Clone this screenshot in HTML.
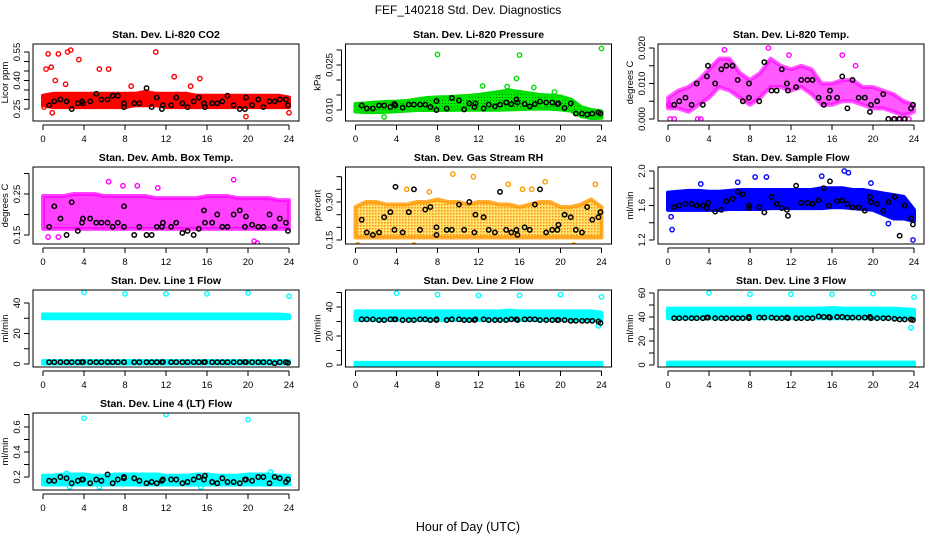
<!DOCTYPE html>
<html><head><meta charset="utf-8"><style>
body{margin:0;background:#fff}
svg{display:block;font-family:"Liberation Sans",Arial,sans-serif}
</style></head><body>
<svg id="chart" width="936" height="540" viewBox="0 0 936 540" xmlns="http://www.w3.org/2000/svg">
<defs>
<pattern id="rhpat" width="3" height="3" patternUnits="userSpaceOnUse"><rect width="3" height="3" fill="#ffe040"/><rect x="0" y="0" width="1.5" height="1.5" fill="#ff6a00"/></pattern>
<pattern id="prpat" width="3" height="3" patternUnits="userSpaceOnUse"><rect width="3" height="3" fill="#00ee00"/><rect x="1" y="1" width="1" height="1" fill="#006600"/></pattern>
</defs>
<text x="468" y="14" font-size="12" text-anchor="middle">FEF_140218  Std. Dev. Diagnostics</text>
<text x="468" y="531" font-size="12.5" text-anchor="middle">Hour of Day (UTC)</text>
</svg>
<script>
// shared sample hours for the black (hourly mean) points
const blackHours=[0.6,1.1,1.7,2.3,2.8,3.4,3.8,3.9,4.6,5.2,5.7,6.3,6.8,7.3,7.9,7.9,8.9,9.4,10.1,10.6,11.1,11.6,11.7,12.5,13,13.6,14.1,14.7,15.2,15.7,15.8,16.5,17,17.5,18,18.6,19.2,19.7,19.8,20.4,21,21.5,22.1,22.6,23.1,23.7,23.9];
const bandHours=[0,1,2,3,4,5,6,7,8,9,10,11,12,13,14,15,16,17,18,19,20,21,22,23,24];
const xTicks=[0,4,8,12,16,20,24];

const co2Lo=[.27,.26,.26,.26,.26,.26,.26,.26,.26,.27,.27,.27,.26,.26,.26,.26,.26,.26,.26,.26,.26,.26,.26,.26,.26];
const co2Hi=[.32,.33,.33,.33,.33,.33,.33,.33,.33,.33,.34,.33,.33,.33,.33,.32,.32,.32,.32,.32,.32,.32,.32,.32,.31];
const co2OutH=[0.3,0.5,0.8,1.5,2.4,2.7,3.5,5.5,6.4,11,12.8,15.3,0.1,0.9,19.8,24,8.6,14.4,1.2,2.2];
const co2OutV=[.46,.54,.47,.54,.55,.56,.51,.46,.46,.55,.42,.41,.26,.23,.21,.23,.37,.37,.40,.38];
const co2Black=[.27,.29,.30,.29,.25,.28,.29,.28,.29,.33,.30,.30,.32,.32,.26,.28,.28,.28,.36,.26,.31,.25,.27,.27,.31,.28,.26,.29,.31,.28,.26,.28,.28,.29,.32,.27,.25,.25,.31,.27,.30,.26,.29,.29,.30,.30,.27];

const prLo=[.0095,.0093,.0093,.0094,.0096,.0098,.0100,.0100,.0100,.0100,.0101,.0101,.0101,.0101,.0101,.0102,.0103,.0104,.0105,.0104,.0102,.0098,.0080,.0073,.0074];
const prHi=[.0120,.0122,.0125,.0127,.0128,.0130,.0135,.0140,.0142,.0143,.0145,.0147,.0150,.0155,.0160,.0165,.0160,.0155,.0150,.0148,.0145,.0135,.0110,.0100,.0095];
const prOutH=[8,16,24,15.7,12.4,17.4,2.8,14.8,19.4];
const prOutV=[.0285,.0283,.0305,.0205,.0180,.0175,.0077,.0178,.0160];
const prBlack=[.0115,.0105,.0105,.0115,.0115,.011,.012,.0115,.0108,.0118,.0118,.0118,.0118,.011,.010,.013,.0105,.0140,.0132,.0102,.0122,.0110,.0122,.0105,.0118,.0112,.0118,.0125,.0120,.0135,.0125,.0120,.0112,.0120,.0128,.0125,.0125,.0120,.0122,.0107,.0122,.0088,.0088,.0085,.0088,.0092,.0088];

const tLo=[.003,.003,.002,.004,.006,.009,.008,.006,.004,.006,.009,.009,.008,.009,.007,.004,.004,.005,.005,.004,.003,.003,.002,.001,.002];
const tHi=[.006,.008,.009,.011,.014,.017,.017,.013,.011,.013,.017,.015,.014,.015,.014,.010,.010,.011,.011,.009,.009,.008,.007,.005,.004];
const tOutH=[0.2,0.6,2.9,3.2,21.5,22,22.5,23,23.5,5.5,9.8,11.8,17,0.1,18.3];
const tOutV=[0,0,0,0,0,0,0,0,0,.0195,.020,.018,.018,.004,.015];
const tBlack=[.004,.005,.006,.004,.010,.004,.012,.015,.010,.014,.015,.015,.011,.005,.006,.010,.005,.016,.008,.008,.014,.010,.008,.009,.011,.011,.011,.006,.004,.006,.008,.006,.012,.003,.011,.006,.006,.002,.004,.005,.007,0,0,0,0,.003,.004];

const aLo=[.165,.165,.165,.165,.165,.165,.165,.165,.165,.165,.165,.165,.165,.165,.165,.165,.165,.165,.165,.165,.165,.165,.165,.165,.165];
const aHi=[.245,.245,.245,.25,.25,.25,.245,.245,.245,.245,.245,.24,.24,.24,.24,.24,.245,.245,.245,.24,.24,.24,.24,.235,.235];
const aOutH=[3.7,6.4,18.6,0.5,1.5,20.6,20.9,11.2,7.8,9.2];
const aOutV=[.33,.28,.285,.145,.145,.135,.13,.265,.27,.27];
const aBlack=[.17,.22,.19,.15,.23,.16,.18,.19,.19,.18,.18,.18,.17,.18,.22,.17,.15,.17,.15,.15,.17,.17,.18,.17,.18,.155,.16,.15,.165,.21,.18,.18,.20,.17,.17,.20,.21,.17,.195,.175,.17,.17,.20,.17,.19,.18,.16];

const rLo=[.16,.16,.16,.16,.16,.16,.16,.16,.16,.16,.16,.16,.16,.16,.16,.16,.16,.16,.16,.16,.16,.16,.16,.16,.16];
const rHi=[.28,.30,.30,.29,.29,.29,.30,.30,.31,.30,.30,.29,.30,.30,.29,.29,.28,.29,.30,.30,.28,.28,.29,.31,.28];
const rOutH=[9.5,11.5,18.5,23.4,14.9,5,7.2,0.2,5.7,21.3,16.3,17.2];
const rOutV=[.41,.40,.38,.37,.37,.35,.34,.13,.13,.13,.35,.35];
const rBlack=[.23,.18,.17,.18,.24,.26,.19,.36,.18,.26,.35,.19,.27,.28,.20,.17,.19,.19,.29,.19,.30,.18,.25,.24,.19,.18,.34,.19,.18,.19,.17,.20,.19,.29,.35,.18,.19,.19,.21,.25,.24,.19,.18,.28,.23,.24,.26];

const sLo=[1.55,1.55,1.55,1.55,1.55,1.55,1.56,1.56,1.56,1.56,1.57,1.57,1.57,1.57,1.57,1.57,1.58,1.58,1.57,1.56,1.55,1.50,1.45,1.45,1.42];
const sHi=[1.75,1.76,1.77,1.77,1.76,1.76,1.77,1.78,1.78,1.78,1.78,1.78,1.78,1.78,1.78,1.80,1.80,1.80,1.78,1.78,1.76,1.74,1.72,1.70,1.55];
const sOutH=[0.3,0.4,17.2,17.6,8.5,9.6,15,19.8,21.5,3.2,6.8,23.9];
const sOutV=[1.47,1.32,2.0,1.98,1.93,1.93,1.94,1.86,1.39,1.85,1.87,1.2];
const sBlack=[1.58,1.60,1.62,1.62,1.60,1.60,1.57,1.63,1.53,1.55,1.65,1.68,1.76,1.73,1.57,1.60,1.58,1.52,1.70,1.62,1.57,1.55,1.48,1.83,1.63,1.63,1.62,1.66,1.80,1.60,1.88,1.65,1.66,1.62,1.58,1.58,1.54,1.70,1.64,1.62,1.54,1.64,1.70,1.25,1.60,1.45,1.38];

const l1Lo=[30,30,30,30,30,30,30,30,30,30,30,30,30,30,30,30,30,30,30,30,30,30,30,30,30];
const l1Hi=[32.5,32.5,32.5,32.5,32.5,32.5,32.5,32.5,32.5,32.5,32.5,32.5,32.5,32.5,32.5,32.5,32.5,32.5,32.5,32.5,32.5,32.5,32.5,32.5,32];
const l1BaseLo=[0.3,0.3,0.3,0.3,0.3,0.3,0.3,0.3,0.3,0.3,0.3,0.3,0.3,0.3,0.3,0.3,0.3,0.3,0.3,0.3,0.3,0.3,0.3,0.3,0.3];
const l1BaseHi=[2,2,2,2,2,2,2,2,2,2,2,2,2,2,2,2,2,2,2,2,2,2,2,2,2];
const l1OutH=[4,8,12,16,20,24];
const l1OutV=[47,46,46,46,46.5,44.5];
const l1Black=[1.2,1.2,1.2,1.2,1.2,1.2,1.2,1.3,1.2,1.2,1.2,1.2,1.2,1.2,1.2,1.2,1.2,1.2,1.2,1.2,1.2,1.2,1.3,1.2,1.2,1.2,1.2,1.2,1.2,1.2,1.3,1.2,1.2,1.2,1.2,1.2,1.2,1.3,1.2,1.2,1.2,1.2,1.2,0.5,1.2,1.2,0.8];

const l2Lo=[31,31,31,31,31,31,31,31,31,31,31,31,31,31,31,31,31,31,31,31,31,31,31,31,31];
const l2Hi=[37,37,37,37,37,37,37,37,37,37,37,37,37,37,37,37.5,37,37,37,37,37,37,37,37,36];
const l2BaseLo=[0,0,0,0,0,0,0,0,0,0,0,0,0,0,0,0,0,0,0,0,0,0,0,0,0];
const l2BaseHi=[1.5,1.5,1.5,1.5,1.5,1.5,1.5,1.5,1.5,1.5,1.5,1.5,1.5,1.5,1.5,1.5,1.5,1.5,1.5,1.5,1.5,1.5,1.5,1.5,1.5];
const l2OutH=[4,8,12,16,20,24,23.7];
const l2OutV=[49.5,48.5,48,48,48.5,47,27];
const l2Black=[31.5,31.5,31.5,31,31,31.5,31.5,31.5,31,31,31,31.5,31.5,31,31,31.5,31,31.5,31.5,31,31,31,31.5,31.5,31,31,31,31,31.5,31.5,31,31.5,31.5,31.5,31,31,31,31,31,31,30.5,30.5,30.5,30.5,30.5,30,29];

const l3Lo=[39,39,39,39,39,39,39,39,39,39,39,39,39,39,39,39,39,39,39,39,39,39,39,39,39];
const l3Hi=[47,47,47,47,47,47,47,47,47,47,47,47,47,47,47,47,47.5,47,47,47,47,47,47,46.5,46];
const l3BaseLo=[0,0,0,0,0,0,0,0,0,0,0,0,0,0,0,0,0,0,0,0,0,0,0,0,0];
const l3BaseHi=[2,2,2,2,2,2,2,2,2,2,2,2,2,2,2,2,2,2,2,2,2,2,2,2,2];
const l3OutH=[4,8,12,16,20,24,23.7];
const l3OutV=[60,59,59,59,59.5,56.5,31];
const l3Black=[39,39,39,39,39,39,39.5,39.5,39,39,39,39,39,39,40,39,39.5,39.5,39.5,39,39,39.5,39,39,39,39,39,40.5,40,40,39.5,40,40,39.5,39.5,39.5,39.5,40,39,39,39,39,38.5,38,38,38,37.5];

const l4Lo=[.14,.14,.14,.14,.14,.14,.14,.14,.14,.14,.14,.14,.14,.14,.14,.14,.14,.14,.14,.14,.14,.14,.14,.14,.14];
const l4Hi=[.21,.21,.22,.22,.22,.21,.21,.22,.22,.22,.22,.22,.21,.21,.21,.22,.22,.21,.21,.21,.22,.22,.22,.21,.21];
const l4OutH=[4,12,20,2.3,22.2,2.6,15.4,5.5];
const l4OutV=[.67,.70,.66,.23,.24,.12,.12,.12];
const l4Black=[.17,.17,.20,.19,.15,.17,.18,.18,.15,.18,.17,.22,.15,.18,.19,.20,.19,.17,.15,.16,.15,.17,.18,.18,.18,.15,.16,.18,.20,.18,.21,.16,.15,.19,.16,.16,.15,.18,.18,.17,.20,.20,.15,.20,.19,.16,.18];

const NS='http://www.w3.org/2000/svg';
const svg=document.getElementById('chart');
function mk(tag,attrs,parent){const e=document.createElementNS(NS,tag);for(const k in attrs)e.setAttribute(k,attrs[k]);(parent||svg).appendChild(e);return e;}

const rowsTop=[44,167,290,413], rowsBot=[121,244,367,490];
const panels=[
 {key:'co2',title:'Stan. Dev. Li-820 CO2',yl:'Licor ppm',c:0,r:0,cal:[.25,109,.55,52],ticks:[.25,.30,.35,.40,.45,.50,.55],labs:[.25,.40,.55],fmt:2,col:'#ff0000',fill:'#ff0000',bands:[[co2Lo,co2Hi]],oh:co2OutH,ov:co2OutV,bv:co2Black},
 {key:'pressure',title:'Stan. Dev. Li-820 Pressure',yl:'kPa',c:1,r:0,cal:[.010,110,.025,65],ticks:[.010,.015,.020,.025,.030],labs:[.010,.025],fmt:3,col:'#00dd00',fill:'url(#prpat)',bands:[[prLo,prHi]],oh:prOutH,ov:prOutV,bv:prBlack},
 {key:'temp',title:'Stan. Dev. Li-820 Temp.',yl:'degrees C',c:2,r:0,cal:[0,119,.020,48],ticks:[0,.005,.010,.015,.020],labs:[0,.010,.020],fmt:3,col:'#ff00ff',fill:'#ff00ff',op:0.65,bands:[[tLo,tHi]],oh:tOutH,ov:tOutV,bv:tBlack},
 {key:'ambbox',title:'Stan. Dev. Amb. Box Temp.',yl:'degrees C',c:0,r:1,cal:[.15,235,.25,194],ticks:[.15,.20,.25,.30],labs:[.15,.25],fmt:2,col:'#ff00ff',fill:'#ff00ff',op:0.75,bands:[[aLo,aHi]],oh:aOutH,ov:aOutV,bv:aBlack},
 {key:'rh',title:'Stan. Dev. Gas Stream RH',yl:'percent',c:1,r:1,cal:[.15,240,.30,202],ticks:[.15,.20,.25,.30,.35,.40],labs:[.15,.30],fmt:2,col:'#ff9900',fill:'url(#rhpat)',op:0.8,bands:[[rLo,rHi]],oh:rOutH,ov:rOutV,bv:rBlack},
 {key:'sampleflow',title:'Stan. Dev. Sample Flow',yl:'ml/min',c:2,r:1,cal:[1.2,240,2.0,171],ticks:[1.2,1.4,1.6,1.8,2.0],labs:[1.2,1.6,2.0],fmt:1,col:'#0000ff',fill:'#0000ff',bands:[[sLo,sHi]],oh:sOutH,ov:sOutV,bv:sBlack},
 {key:'line1',title:'Stan. Dev. Line 1 Flow',yl:'ml/min',c:0,r:2,cal:[0,364,40,303],ticks:[0,10,20,30,40],labs:[0,20,40],fmt:0,col:'#00ffff',fill:'#00ffff',bands:[[l1Lo,l1Hi],[l1BaseLo,l1BaseHi]],oh:l1OutH,ov:l1OutV,bv:l1Black},
 {key:'line2',title:'Stan. Dev. Line 2 Flow',yl:'ml/min',c:1,r:2,cal:[0,365,40,307],ticks:[0,10,20,30,40,50],labs:[0,20,40],fmt:0,col:'#00ffff',fill:'#00ffff',bands:[[l2Lo,l2Hi],[l2BaseLo,l2BaseHi]],oh:l2OutH,ov:l2OutV,bv:l2Black},
 {key:'line3',title:'Stan. Dev. Line 3 Flow',yl:'ml/min',c:2,r:2,cal:[0,365,60,293],ticks:[0,10,20,30,40,50,60],labs:[0,20,40,60],fmt:0,col:'#00ffff',fill:'#00ffff',bands:[[l3Lo,l3Hi],[l3BaseLo,l3BaseHi]],oh:l3OutH,ov:l3OutV,bv:l3Black},
 {key:'line4',title:'Stan. Dev. Line 4 (LT) Flow',yl:'ml/min',c:0,r:3,cal:[.2,477,.6,427],ticks:[.2,.3,.4,.5,.6,.7],labs:[.2,.4,.6],fmt:1,col:'#00ffff',fill:'#00ffff',bands:[[l4Lo,l4Hi]],oh:l4OutH,ov:l4OutV,bv:l4Black}
];

panels.forEach(p=>{
  const x0=43+312.5*p.c, x24=x0+246;
  const xs=h=>x0+(x24-x0)*h/24;
  const [v1,p1,v2,p2]=p.cal;
  const ys=v=>p1+(v-v1)*(p2-p1)/(v2-v1);
  const top=rowsTop[p.r], bot=rowsBot[p.r], left=x0-10, right=x24+10;
  const g=mk('g',{});
  
  
  const t=mk('text',{x:(left+right)/2,y:top-6,'font-size':10.5,'font-weight':'bold','text-anchor':'middle'},g);
  t.textContent=p.title;
  
  
  const cp=mk('clipPath',{id:'cp-'+p.key},g);
  mk('rect',{x:left,y:top,width:right-left,height:bot-top},cp);
  const plot=mk('g',{'clip-path':'url(#cp-'+p.key+')'},g);
  p.bands.forEach((b,bi)=>{
    const [lo,hi]=b;
    let pts=bandHours.map((h,i)=>xs(h)+','+ys(hi[i]));
    pts=pts.concat(bandHours.slice().reverse().map((h,j)=>{const i=bandHours.length-1-j;return xs(h)+','+ys(lo[i]);}));
    const pg=mk('polygon',{points:pts.join(' '),fill:p.fill,stroke:p.col,'stroke-width':4,'stroke-linejoin':'round','fill-opacity':p.op||1,'stroke-opacity':p.op||1},plot);
    
    
  });
  p.oh.forEach((h,i)=>{
    const c=mk('circle',{cx:xs(h),cy:ys(p.ov[i]),r:2.2,fill:'none',stroke:p.col,'stroke-width':1.4},plot);
    
    
  });
  blackHours.forEach((h,i)=>{
    const c=mk('circle',{cx:xs(h),cy:ys(p.bv[i]),r:2.2,fill:'none',stroke:'#000','stroke-width':1.5},plot);
    
    
  });
  const box=mk('rect',{x:left,y:top,width:right-left,height:bot-top,fill:'none',stroke:'#000','stroke-width':1},g);
  
  
  const ax=bot+4;
  mk('line',{x1:xs(0),x2:xs(24),y1:ax,y2:ax,stroke:'#000'},g);
  xTicks.forEach(h=>{
    mk('line',{x1:xs(h),x2:xs(h),y1:ax,y2:ax+5,stroke:'#000'},g);
    const tl=mk('text',{x:xs(h),y:ax+17,'font-size':9.5,'text-anchor':'middle'},g);
    tl.textContent=h;
    
    
  });
  const ay=left-4;
  const yt=p.ticks.map(ys).filter(y=>y>=top-8&&y<=bot+8);
  mk('line',{x1:ay,x2:ay,y1:Math.min(...yt),y2:Math.max(...yt),stroke:'#000'},g);
  p.ticks.forEach(v=>{
    const y=ys(v); if(y<top-8||y>bot+8) return;
    mk('line',{x1:ay-5,x2:ay,y1:y,y2:y,stroke:'#000'},g);
  });
  p.labs.forEach(v=>{
    const y=ys(v);
    const tl=mk('text',{x:0,y:0,'font-size':9.5,'text-anchor':'middle',transform:'translate('+(ay-9)+','+y+') rotate(-90)'},g);
    tl.textContent=v.toFixed(p.fmt);
    
    
  });
  const yl=mk('text',{x:0,y:0,'font-size':9.5,'text-anchor':'middle',transform:'translate('+(ay-21)+','+((top+bot)/2)+') rotate(-90)'},g);
  yl.textContent=p.yl;
  
  
});
</script>
</body></html>
